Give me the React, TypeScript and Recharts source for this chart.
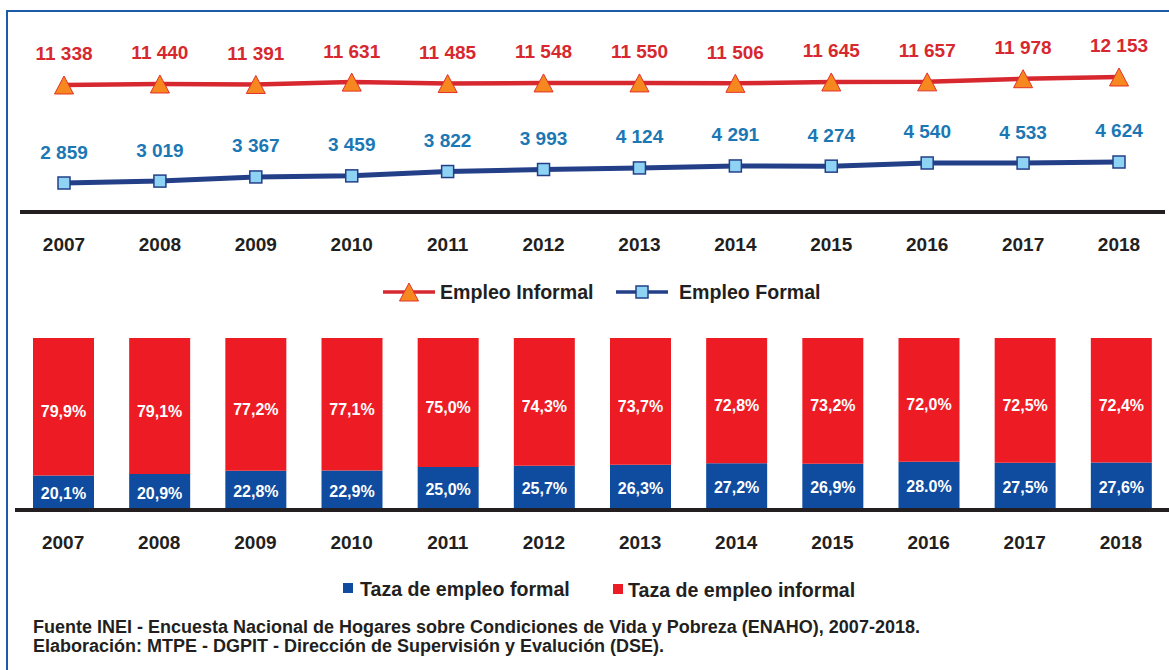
import { LineChart, Line, BarChart, Bar, XAxis, YAxis, LabelList } from 'recharts';

const YEARS = ['2007', '2008', '2009', '2010', '2011', '2012', '2013', '2014', '2015', '2016', '2017', '2018'];
const INFORMAL = [11338, 11440, 11391, 11631, 11485, 11548, 11550, 11506, 11645, 11657, 11978, 12153];
const FORMAL = [2859, 3019, 3367, 3459, 3822, 3993, 4124, 4291, 4274, 4540, 4533, 4624];
const RATE_FORMAL = [20.1, 20.9, 22.8, 22.9, 25.0, 25.7, 26.3, 27.2, 26.9, 28.0, 27.5, 27.6];
const RATE_INFORMAL = [79.9, 79.1, 77.2, 77.1, 75.0, 74.3, 73.7, 72.8, 73.2, 72.0, 72.5, 72.4];
const RATE_FORMAL_LABELS = ['20,1%', '20,9%', '22,8%', '22,9%', '25,0%', '25,7%', '26,3%', '27,2%', '26,9%', '28.0%', '27,5%', '27,6%'];
const RATE_INFORMAL_LABELS = ['79,9%', '79,1%', '77,2%', '77,1%', '75,0%', '74,3%', '73,7%', '72,8%', '73,2%', '72,0%', '72,5%', '72,4%'];

const FONT = '"Liberation Sans", Arial, Helvetica, sans-serif';
const DARK = '#231f20';
const RED_LINE = '#d7282f';
const NAVY = '#233f88';
const ORANGE = '#f7871f';
const SKY = '#8fd3f4';
const BAR_RED = '#ed1c24';
const BAR_BLUE = '#0f4c9f';
const LABEL_BLUE = '#1b78b4';
const FRAME = '#1d5aa8';

const lineData = YEARS.map((year, i) => ({ year, informal: INFORMAL[i], formal: FORMAL[i] }));
const barData = YEARS.map((year, i) => ({
  year,
  formal: RATE_FORMAL[i],
  informal: RATE_INFORMAL[i],
  formalLabel: RATE_FORMAL_LABELS[i],
  informalLabel: RATE_INFORMAL_LABELS[i],
}));

const fmt = (v: number) => String(v).replace(/\B(?=(\d{3})+(?!\d))/g, ' ');

function Triangle({ cx, cy }: { cx?: number; cy?: number }) {
  if (cx == null || cy == null) return null;
  return (
    <path
      d={`M${cx},${cy - 9} L${cx + 9.5},${cy + 9} L${cx - 9.5},${cy + 9} Z`}
      fill={ORANGE}
      stroke="#e2322a"
      strokeWidth={1}
    />
  );
}

function Square({ cx, cy }: { cx?: number; cy?: number }) {
  if (cx == null || cy == null) return null;
  return <rect x={cx - 6} y={cy - 6} width={12} height={12} fill={SKY} stroke={NAVY} strokeWidth={1.5} />;
}

function YearTick({ x, y, payload }: any) {
  return (
    <text x={x} y={y + 32} textAnchor="middle" dominantBaseline="central" fill={DARK} fontSize={19} fontWeight="bold" fontFamily={FONT}>
      {payload.value}
    </text>
  );
}

function valueLabel(color: string) {
  return (p: any) => (
    <text
      key={`l-${p.index}`}
      x={p.x}
      y={p.y - 31}
      textAnchor="middle"
      dominantBaseline="central"
      fill={color}
      fontSize={19}
      fontWeight="bold"
      fontFamily={FONT}
    >
      {fmt(Number(p.value))}
    </text>
  );
}

function barLabel(key: 'formalLabel' | 'informalLabel', dy: number) {
  return (p: any) => (
    <text
      key={`b-${key}-${p.index}`}
      x={p.x + p.width / 2}
      y={p.y + p.height / 2 + dy}
      textAnchor="middle"
      dominantBaseline="central"
      fill="#ffffff"
      fontSize={16}
      fontWeight="bold"
      fontFamily={FONT}
    >
      {barData[p.index][key]}
    </text>
  );
}

const textStyle = { fontFamily: FONT, fontWeight: 'bold' as const, color: DARK };

export default function App() {
  return (
    <div style={{ position: 'fixed', left: 0, top: 0, width: 1169, height: 670, background: '#fff', overflow: 'hidden' }}>
      {/* frame */}
      <div style={{ position: 'absolute', left: 6, top: 10, width: 1200, height: 700, borderTop: `2px solid ${FRAME}`, borderLeft: `2px solid ${FRAME}` }} />

      {/* employment lines */}
      <div style={{ position: 'absolute', left: 0, top: 0 }}>
        <LineChart width={1169} height={270} data={lineData} margin={{ top: 40, right: 4, left: 20, bottom: 18 }}>
          <XAxis
            dataKey="year"
            height={40}
            padding={{ left: 44, right: 46 }}
            axisLine={{ stroke: DARK, strokeWidth: 4 }}
            tickLine={false}
            tickSize={0}
            tickMargin={0}
            tick={<YearTick />}
            interval={0}
          />
          <YAxis yAxisId="inf" hide domain={[-1600, 15922]} allowDataOverflow />
          <YAxis yAxisId="for" hide domain={[422, 14876]} allowDataOverflow />
          <Line
            yAxisId="inf"
            dataKey="informal"
            type="linear"
            stroke={RED_LINE}
            strokeWidth={4.5}
            dot={(p: any) => <Triangle key={`t-${p.index}`} cx={p.cx} cy={p.cy} />}
            isAnimationActive={false}
          >
            <LabelList dataKey="informal" content={valueLabel(RED_LINE)} />
          </Line>
          <Line
            yAxisId="for"
            dataKey="formal"
            type="linear"
            stroke={NAVY}
            strokeWidth={5}
            dot={(p: any) => <Square key={`s-${p.index}`} cx={p.cx} cy={p.cy} />}
            isAnimationActive={false}
          >
            <LabelList dataKey="formal" content={valueLabel(LABEL_BLUE)} />
          </Line>
        </LineChart>
      </div>

      {/* legend 1 */}
      <svg width={1169} height={24} style={{ position: 'absolute', left: 0, top: 280 }}>
        <line x1={383} x2={435} y1={12} y2={12} stroke={RED_LINE} strokeWidth={3.5} />
        <Triangle cx={409} cy={12} />
        <line x1={616} x2={668} y1={12} y2={12} stroke={NAVY} strokeWidth={3.5} />
        <Square cx={642} cy={12} />
        <text x={440} y={12} dominantBaseline="central" fontSize={19.6} fontFamily={FONT} fontWeight="bold" fill={DARK}>Empleo Informal</text>
        <text x={679} y={12} dominantBaseline="central" fontSize={19.6} fontFamily={FONT} fontWeight="bold" fill={DARK}>Empleo Formal</text>
      </svg>

      {/* rate bars */}
      <div style={{ position: 'absolute', left: 0, top: 310 }}>
        <BarChart width={1169} height={260} data={barData} margin={{ top: 28, right: 0, left: 15, bottom: 20 }} barSize={61}>
          <XAxis
            dataKey="year"
            height={40}
            axisLine={{ stroke: DARK, strokeWidth: 4 }}
            tickLine={false}
            tickSize={0}
            tickMargin={0}
            tick={<YearTick />}
            interval={0}
          />
          <YAxis hide domain={[0, 100]} allowDataOverflow />
          <Bar dataKey="formal" stackId="a" fill={BAR_BLUE} isAnimationActive={false}>
            <LabelList dataKey="formal" content={barLabel('formalLabel', 1)} />
          </Bar>
          <Bar dataKey="informal" stackId="a" fill={BAR_RED} isAnimationActive={false}>
            <LabelList dataKey="informal" content={barLabel('informalLabel', 5)} />
          </Bar>
        </BarChart>
      </div>

      {/* legend 2 */}
      <svg width={1169} height={24} style={{ position: 'absolute', left: 0, top: 577 }}>
        <rect x={343} y={6} width={10} height={10} fill={BAR_BLUE} />
        <text x={360} y={12} dominantBaseline="central" fontSize={19.6} fontFamily={FONT} fontWeight="bold" fill={DARK}>Taza de empleo formal</text>
        <rect x={613} y={7} width={10} height={10} fill={BAR_RED} />
        <text x={628} y={13} dominantBaseline="central" fontSize={19.6} fontFamily={FONT} fontWeight="bold" fill={DARK}>Taza de empleo informal</text>
      </svg>

      {/* source */}
      <div style={{ ...textStyle, position: 'absolute', left: 33, top: 618, fontSize: 18, lineHeight: '19px', whiteSpace: 'nowrap' }}>
        <div>Fuente INEI - Encuesta Nacional de Hogares sobre Condiciones de Vida y Pobreza (ENAHO), 2007-2018.</div>
        <div>Elaboración: MTPE - DGPIT - Dirección de Supervisión y Evalución (DSE).</div>
      </div>
    </div>
  );
}
